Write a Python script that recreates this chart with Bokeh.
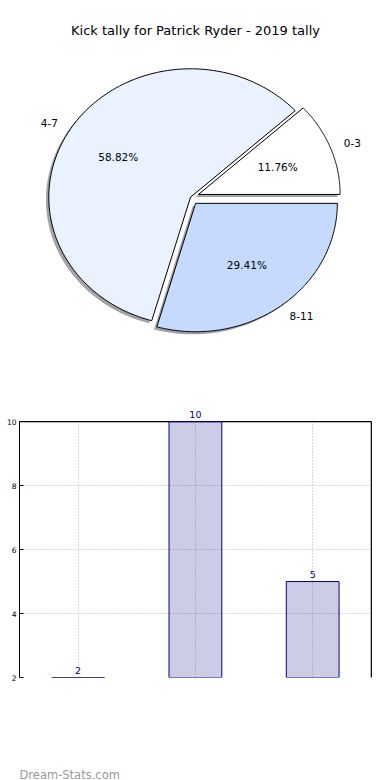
import numpy as np
from bokeh.plotting import figure
from bokeh.models import Range1d, ColumnDataSource, LabelSet, FixedTicker, Grid, BoxAnnotation
from bokeh.layouts import column
from bokeh.embed import file_html
from bokeh.resources import INLINE
from bokeh.core.properties import value

# ---------------- data ----------------
title_text = "Kick tally for Patrick Ryder - 2019 tally"
categories = ["0-3", "4-7", "8-11"]
counts = [2, 10, 5]
slice_colors = ["#ffffff", "#ebf2ff", "#c6daff"]
explode = [0.06, 0.0, 0.06]
y_ticks = [2, 4, 6, 8, 10]
watermark = "Dream-Stats.com"

FONT = "DejaVu Sans"
W = 390
PIE_H = 398
BAR_H = 352
WM_H = 30
BL, BR = 19, 18            # left/right borders (frames are aligned in the column)

# ---------------- pie ----------------
cx, cy = 190.0, 196.7      # pie centre in figure pixels (from top-left)
rx, ry = 141.7, 128.4      # ellipse radii in pixels

pie = figure(width=W, height=PIE_H, output_backend="svg", toolbar_location=None,
             x_range=Range1d((BL - cx) / rx, (W - BR - cx) / rx),
             y_range=Range1d(-(PIE_H - cy) / ry, cy / ry),
             x_axis_type=None, y_axis_type=None,
             min_border_left=BL, min_border_right=BR, min_border_top=0, min_border_bottom=0)
pie.grid.visible = False
pie.outline_line_color = None
pie.background_fill_color = "white"
pie.border_fill_color = "white"

total = float(sum(counts))
fracs = [c / total for c in counts]
theta = np.concatenate([[0.0], np.cumsum(fracs)]) * 2 * np.pi

wx, wy, sx, sy, shadow_cols = [], [], [], [], []
lab_x, lab_y, lab_align = [], [], []
pct_x, pct_y, pct_text = [], [], []
for i, cat in enumerate(categories):
    t = np.linspace(theta[i], theta[i + 1], 150)
    mid = 0.5 * (theta[i] + theta[i + 1])
    ox, oy = explode[i] * np.cos(mid), explode[i] * np.sin(mid)
    px = np.concatenate([[ox], ox + np.cos(t)])
    py = np.concatenate([[oy], oy + np.sin(t)])
    wx.append(list(px)); wy.append(list(py))
    sx.append(list(px - 0.02)); sy.append(list(py - 0.02))
    h = slice_colors[i].lstrip("#")
    rgb = [int(h[k:k + 2], 16) for k in (0, 2, 4)]
    shadow_cols.append("#%02x%02x%02x" % tuple(int(0.3 * c) for c in rgb))
    lab_x.append(ox + 1.1 * np.cos(mid)); lab_y.append(oy + 1.1 * np.sin(mid))
    lab_align.append("left" if np.cos(mid) > 0 else "right")
    pct_x.append(ox + 0.6 * np.cos(mid)); pct_y.append(oy + 0.6 * np.sin(mid))
    pct_text.append("%.2f%%" % (100 * fracs[i]))

pie.patches(xs=sx, ys=sy, fill_color=shadow_cols, fill_alpha=0.5, line_color=None)
pie.patches(xs=wx, ys=wy, fill_color=slice_colors, line_color="black", line_width=1)

pie.text(x=lab_x, y=lab_y, text=categories, text_align=lab_align, text_baseline="middle",
         text_font=value(FONT), text_font_size="10.5px", text_color="black")
pie.text(x=pct_x, y=pct_y, text=pct_text, text_align="center", text_baseline="middle",
         text_font=value(FONT), text_font_size="10.5px", text_color="black")
pie.text(x=[(195 - cx) / rx], y=[(cy - 30) / ry], text=[title_text], text_align="center",
         text_baseline="middle", text_font=value(FONT), text_font_size="13px", text_color="black")

# ---------------- bar ----------------
positions = list(range(len(categories)))
x_lo, x_hi = -0.5, len(categories) - 0.5
y_lo, y_hi = y_ticks[0], y_ticks[-1]
bar = figure(width=W, height=BAR_H, output_backend="svg", toolbar_location=None,
             x_range=Range1d(x_lo, x_hi + 0.01), y_range=Range1d(y_lo, y_hi + 0.6),
             x_axis_location=None,
             min_border_left=BL, min_border_right=BR, min_border_top=4, min_border_bottom=73)
bar.outline_line_color = None
bar.background_fill_color = "white"
bar.border_fill_color = "white"

# hide the default vertical grid (it has ticks between the bars)
for g in bar.xgrid:
    g.visible = False

ya = bar.yaxis[0]
ya.ticker = FixedTicker(ticks=y_ticks)
ya.bounds = (y_lo, y_hi)
ya.major_tick_in = 4
ya.major_tick_out = 0
ya.minor_tick_line_color = None
ya.major_label_standoff = 3
ya.major_label_text_font = FONT
ya.major_label_text_font_size = "7.5px"
ya.major_label_text_color = "black"
ya.axis_line_color = "black"

ygrid = bar.ygrid[0]
ygrid.ticker = FixedTicker(ticks=y_ticks)
xg = Grid(dimension=0, ticker=FixedTicker(ticks=positions))
bar.add_layout(xg, "center")
for g in (xg, ygrid):
    g.grid_line_color = "#b4b4b4"
    g.grid_line_dash = "1 2"
    g.grid_line_width = 1

# white band above the plot area so grid lines stop at the top edge
bar.add_layout(BoxAnnotation(bottom=y_hi + 0.02, fill_color="white", fill_alpha=1.0,
                             line_alpha=0, level="underlay"))

# frame: top and right edges (the bottom is cut off in the original)
bar.line(x=[x_lo, x_hi, x_hi], y=[y_hi, y_hi, y_lo - 1], line_color="black", line_width=1.2)

src = ColumnDataSource(dict(x=positions, top=counts, label=[str(c) for c in counts]))
bar.vbar(x="x", top="top", bottom=0, width=0.45, source=src,
         fill_color="navy", fill_alpha=0.2, line_color="navy", line_width=1)
bar.add_layout(LabelSet(x="x", y="top", text="label", source=src, y_offset=4,
                        text_align="center", text_baseline="bottom",
                        text_font=value(FONT), text_font_size="9.5px", text_color="navy"))

# ---------------- watermark ----------------
wm = figure(width=W, height=WM_H, output_backend="svg", toolbar_location=None,
            x_range=Range1d(-BL, W - BL - BR), y_range=Range1d(0, WM_H),
            x_axis_type=None, y_axis_type=None,
            min_border_left=BL, min_border_right=BR, min_border_top=0, min_border_bottom=0)
wm.grid.visible = False
wm.outline_line_color = None
wm.text(x=[0 - BL], y=[6], text=[watermark], text_align="left", text_baseline="alphabetic",
        text_font=value(FONT), text_font_size="11.5px", text_color="#9a9a9a")

layout = column(pie, bar, wm, spacing=0)
open("out.html", "w").write(file_html(layout, INLINE))
